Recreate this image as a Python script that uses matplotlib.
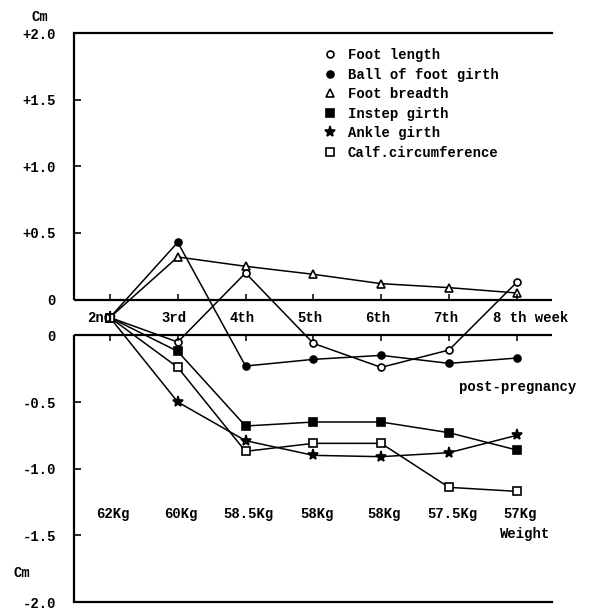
import numpy as np
import matplotlib.pyplot as plt
from matplotlib.lines import Line2D

# Week index on the x axis (2nd .. 8th week after delivery)
weeks = [2, 3, 4, 5, 6, 7, 8]
week_labels = ['2nd', '3rd', '4th', '5th', '6th', '7th']
weight_labels = ['62Kg', '60Kg', '58.5Kg', '58Kg', '58Kg', '57.5Kg', '57Kg']

# Change in cm
foot_length = [0, -0.05, 0.20, -0.06, -0.24, -0.11, 0.13]
ball_girth = [0, 0.43, -0.23, -0.18, -0.15, -0.21, -0.17]
foot_breadth = [0, 0.32, 0.25, 0.19, 0.12, 0.09, 0.05]
instep_girth = [0, -0.12, -0.68, -0.65, -0.65, -0.73, -0.86]
ankle_girth = [0, -0.50, -0.79, -0.90, -0.91, -0.88, -0.75]
calf_circ = [0, -0.24, -0.87, -0.81, -0.81, -1.14, -1.17]

yticks = [2.0, 1.5, 1.0, 0.5, 1e-9, -1e-9, -0.5, -1.0, -1.5, -2.0]
ytick_labels = ['+2.0', '+1.5', '+1.0', '+0.5', '0', '0', '-0.5', '-1.0', '-1.5', '-2.0']

GAP = 0.134  # half-height of the band between the two zero lines

plt.rcParams['font.family'] = ['Liberation Mono', 'DejaVu Sans Mono']
plt.rcParams['font.weight'] = 'bold'
plt.rcParams['font.size'] = 10


def forward(v):
    v = np.asarray(v, dtype=float)
    return v + GAP * np.sign(v)


def inverse(y):
    y = np.asarray(y, dtype=float)
    return np.where(np.abs(y) < GAP, 0.0, y - GAP * np.sign(y))


fig = plt.figure(figsize=(5.89, 6.10), dpi=100)
ax = fig.add_axes([74 / 589, 8 / 610, (552 - 74) / 589, (602 - 33) / 610])
ax.set_yscale('function', functions=(forward, inverse))
ax.set_xlim(1.47, 8.52)
ax.set_ylim(-2.0, 2.0)

series = [
    ('Foot length', foot_length, dict(marker='o', mfc='white', ms=5)),
    ('Ball of foot girth', ball_girth, dict(marker='o', mfc='black', ms=5)),
    ('Foot breadth', foot_breadth, dict(marker='^', mfc='white', ms=6)),
    ('Instep girth', instep_girth, dict(marker='s', mfc='black', ms=5.5)),
    ('Ankle girth', ankle_girth, dict(marker='*', mfc='black', ms=8)),
    ('Calf.circumference', calf_circ, dict(marker='s', mfc='white', ms=5.5)),
]

handles = []
for name, vals, style in series:
    ax.plot(weeks, vals, color='black', lw=1.1, mec='black', mew=1.2, **style)
    handles.append(Line2D([], [], ls='none', color='black', mec='black', mew=1.2,
                          label=name, **style))

# frame: two zero lines with the week band between them
ax.spines['right'].set_visible(False)
ax.spines['left'].set_visible(False)
ax.spines['top'].set_linewidth(1.6)
ax.spines['bottom'].set_linewidth(1.6)
ax.axhline(1e-9, color='black', lw=1.6)
ax.axhline(-1e-9, color='black', lw=1.6)
ax.vlines(1.47, 1e-9, 2.0, color='black', lw=1.6, clip_on=False)
ax.vlines(1.47, -2.0, -1e-9, color='black', lw=1.6, clip_on=False)
ax.vlines(weeks, 1e-9, 0.04, color='black', lw=1.1)
ax.vlines(weeks, -0.04, -1e-9, color='black', lw=1.1)

ax.set_xticks([])
ax.set_yticks(yticks)
ax.set_yticklabels(ytick_labels)
ax.tick_params(axis='y', direction='in', length=5, width=1.2, pad=13)
ax.minorticks_off()

ax.text(2.04, 0, week_labels[0], ha='right', va='center')
for w, lab in zip(weeks[1:], week_labels[1:]):
    ax.text(w - 0.05, 0, lab, ha='center', va='center')
ax.text(7.65, 0, '8 th week', ha='left', va='center')

for w, lab in zip(weeks, weight_labels):
    ax.text(w + 0.05, -1.34, lab, ha='center', va='center')
ax.text(8.13, -1.49, 'Weight', ha='center', va='center')
ax.text(8.02, -0.39, 'post-pregnancy', ha='center', va='center')

fig.text(40 / 589, 1 - 17 / 610, 'Cm', ha='center', va='center')
fig.text(22 / 589, 1 - 573 / 610, 'Cm', ha='center', va='center')

ax.legend(handles=handles, loc='upper left', bbox_to_anchor=(323 / 589, 1 - 48 / 610),
          bbox_transform=fig.transFigure, frameon=False, numpoints=1,
          handlelength=1.0, handletextpad=0.8, labelspacing=0.4,
          borderpad=0, borderaxespad=0)

fig.savefig('out.png', dpi=100)
